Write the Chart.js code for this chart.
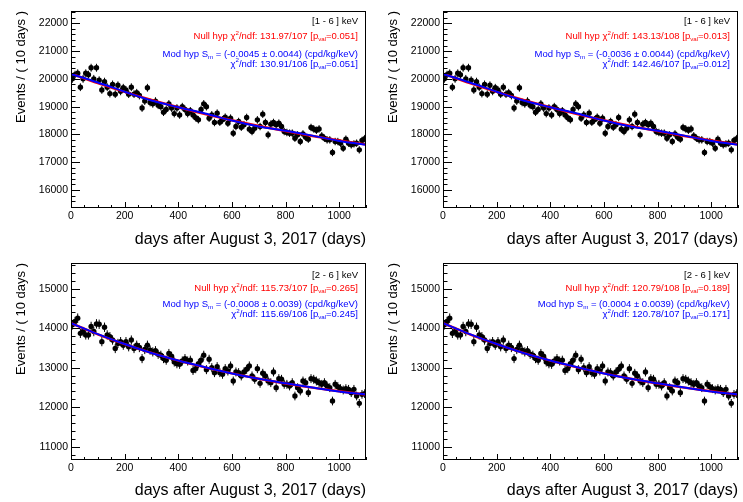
<!DOCTYPE html>
<html><head><meta charset="utf-8">
<script src="https://cdn.jsdelivr.net/npm/chart.js@4.4.0/dist/chart.umd.min.js"></script>
<style>
html,body{margin:0;padding:0;background:#fff;}
#wrap{position:relative;width:743px;height:502px;overflow:hidden;background:#fff;}
canvas{position:absolute;}
</style></head><body><div id="wrap">
<canvas id="c0" width="371" height="251" style="left:0px;top:0px"></canvas>
<canvas id="c1" width="371" height="251" style="left:372px;top:0px"></canvas>
<canvas id="c2" width="371" height="251" style="left:0px;top:251px"></canvas>
<canvas id="c3" width="371" height="251" style="left:372px;top:251px"></canvas>
</div>
<script>
// ---- data ----
const days = [5,15,25,35,45,55,65,75,85,95,
 105,115,125,135,145,155,165,175,185,195,
 205,215,225,235,245,255,265,275,285,295,
 305,315,325,335,345,355,365,375,385,395,
 405,415,425,435,445,455,465,475,485,495,
 505,515,525,535,545,555,565,575,585,595,
 605,615,625,635,645,655,665,675,685,695,
 705,715,725,735,745,755,765,775,785,795,
 805,815,825,835,845,855,865,875,885,895,
 905,915,925,935,945,955,965,975,985,995,
 1005,1015,1025,1035,1045,1055,1065,1075,1085,1095];

const counts1to6 = [20000,20150,20200,19700,20000,20200,20150,20400,20000,20400,
 19950,19600,19900,19700,19470,19800,19450,19770,19550,19680,
 19600,19450,19700,19450,19500,19400,18950,19200,19680,19150,
 19100,19200,19050,19000,18800,18900,19100,18950,18750,18950,
 18700,19000,18900,18750,18850,18700,18600,18530,18900,19100,
 19000,18585,18705,18430,18765,18440,18525,18620,18405,18585,
 18045,18285,18465,18260,18345,18610,18190,18105,18225,18525,
 18285,18730,18430,17985,18370,18430,18345,18405,18285,18105,
 18070,18045,18045,17865,17985,17745,18020,17900,17830,18250,
 18200,18150,18200,17950,17865,17805,17805,17350,17745,17745,
 17685,17505,17830,17685,17625,17660,17685,17445,17780,17850];

const counts2to6 = [14085,14170,14255,13870,13915,13830,13830,14045,13915,14110,
 14100,13660,14025,13830,13785,13700,13485,13615,13660,13570,
 13660,13530,13700,13485,13570,13510,13230,13460,13570,13445,
 13400,13430,13340,13315,13230,13190,13360,13290,13145,13100,
 13085,13170,13230,13170,13190,12930,12975,13100,13190,13315,
 12950,13213,13001,12875,13027,12875,12833,12976,12917,13044,
 12663,12892,12875,12791,12892,12960,13044,12791,12706,12976,
 12604,12858,12791,12663,12621,12892,12494,12723,12706,12579,
 12579,12537,12621,12283,12494,12410,12663,12621,12368,12723,
 12706,12663,12621,12579,12621,12537,12494,12156,12579,12520,
 12469,12435,12469,12452,12368,12452,12283,12097,12325,12342];

const fitDays = [0,100,200,300,400,500,600,700,800,900,1000,1100];
const nullFit1to6 = [20190,19847,19532,19243,18978,18734,18510,18305,18117,17944,17786,17640];
const modFit1to6  = [20178,19868,19537,19220,18980,18756,18500,18286,18132,17958,17766,17630];
const nullFit2to6 = [14130,13847,13598,13377,13181,13009,12856,12721,12601,12496,12403,12320];
const modFit2to6  = [14127,13851,13599,13373,13181,13013,12854,12718,12604,12499,12400,12319];

const xRange = [0, 1100];
const xTicks = [0,200,400,600,800,1000];
const yRange1to6 = [15353, 22442];
const yTicks1to6 = [16000,17000,18000,19000,20000,21000,22000];
const yRange2to6 = [10662, 15652];
const yTicks2to6 = [11000,12000,13000,14000,15000];

const xTitle = 'days after August 3, 2017 (days)';
const yTitle = 'Events / ( 10 days )';

const text1to6Left  = ['[1 - 6 ] keV', 'Null hyp \u03c7^{2}/ndf: 131.97/107 [p_{val}=0.051]', 'Mod hyp S_{m} = (-0.0045 \u00b1 0.0044) (cpd/kg/keV)', '\u03c7^{2}/ndf: 130.91/106 [p_{val}=0.051]'];
const text1to6Right = ['[1 - 6 ] keV', 'Null hyp \u03c7^{2}/ndf: 143.13/108 [p_{val}=0.013]', 'Mod hyp S_{m} = (-0.0036 \u00b1 0.0044) (cpd/kg/keV)', '\u03c7^{2}/ndf: 142.46/107 [p_{val}=0.012]'];
const text2to6Left  = ['[2 - 6 ] keV', 'Null hyp \u03c7^{2}/ndf: 115.73/107 [p_{val}=0.265]', 'Mod hyp S_{m} = (-0.0008 \u00b1 0.0039) (cpd/kg/keV)', '\u03c7^{2}/ndf: 115.69/106 [p_{val}=0.245]'];
const text2to6Right = ['[2 - 6 ] keV', 'Null hyp \u03c7^{2}/ndf: 120.79/108 [p_{val}=0.189]', 'Mod hyp S_{m} = (0.0004 \u00b1 0.0039) (cpd/kg/keV)', '\u03c7^{2}/ndf: 120.78/107 [p_{val}=0.171]'];
const textColors = ['#000000', '#ff0000', '#0000ff', '#0000ff'];

// ---- rendering ----
const FONT = '"Liberation Sans", Arial, Helvetica, sans-serif';

function drawRich(ctx, str, xRight, yMid, size, color) {
  const parts = str.split(/(\^\{[^}]*\}|_\{[^}]*\})/).filter(s => s.length);
  const segs = parts.map(p => {
    if (p.startsWith('^{')) return {t: p.slice(2, -1), k: 'sup'};
    if (p.startsWith('_{')) return {t: p.slice(2, -1), k: 'sub'};
    return {t: p, k: 'n'};
  });
  const small = size * 0.65;
  let total = 0;
  segs.forEach(s => {
    ctx.font = (s.k === 'n' ? size : small) + 'px ' + FONT;
    s.w = ctx.measureText(s.t).width;
    total += s.w;
  });
  let x = xRight - total;
  ctx.fillStyle = color;
  ctx.textBaseline = 'middle';
  ctx.textAlign = 'left';
  segs.forEach(s => {
    ctx.font = (s.k === 'n' ? size : small) + 'px ' + FONT;
    let dy = 0;
    if (s.k === 'sup') dy = -size * 0.38;
    if (s.k === 'sub') dy = size * 0.32;
    ctx.fillText(s.t, x, yMid + dy);
    x += s.w;
  });
}

const rootPlugin = {
  id: 'rootPlugin',
  beforeDatasetsDraw(chart) {
    const cfg = chart.options.plugins.rootPlugin;
    const {ctx, chartArea: a} = chart;
    const x = chart.scales.x, y = chart.scales.y;
    ctx.save();
    ctx.beginPath(); ctx.rect(a.left, a.top, a.right - a.left, a.bottom - a.top); ctx.clip();
    ctx.strokeStyle = '#000'; ctx.lineWidth = 1;
    cfg.counts.forEach((v, i) => {
      const px = x.getPixelForValue(days[i]);
      const e = Math.sqrt(v);
      ctx.beginPath();
      ctx.moveTo(px, y.getPixelForValue(v + e));
      ctx.lineTo(px, y.getPixelForValue(v - e));
      ctx.stroke();
    });
    ctx.restore();
  },
  afterDraw(chart) {
    const cfg = chart.options.plugins.rootPlugin;
    const {ctx, chartArea: a} = chart;
    const x = chart.scales.x, y = chart.scales.y;
    ctx.save();
    ctx.strokeStyle = '#000'; ctx.lineWidth = 1;
    ctx.strokeRect(a.left + 0.5, a.top + 0.5, a.right - a.left - 1, a.bottom - a.top - 1);
    ctx.beginPath();
    for (let v = Math.ceil(y.min / 200) * 200; v <= y.max; v += 200) {
      const py = Math.round(y.getPixelForValue(v)) + 0.5;
      const len = (v % 1000 === 0) ? 9 : 4.5;
      ctx.moveTo(a.left, py); ctx.lineTo(a.left + len, py);
    }
    for (let v = 0; v <= x.max; v += 50) {
      const px = Math.round(x.getPixelForValue(v)) + 0.5;
      const len = (v % 200 === 0) ? 6 : 3;
      ctx.moveTo(px, a.bottom); ctx.lineTo(px, a.bottom - len);
    }
    ctx.stroke();
    cfg.lines.forEach((s, i) => {
      drawRich(ctx, s, a.right - 8, cfg.textY[i], 9.5, textColors[i]);
    });
    ctx.restore();
  }
};

function makeChart(id, counts, nullFit, modFit, yRange, yTicks, lines, padTop, xH, textY) {
  const pts = days.map((d, i) => ({x: d, y: counts[i]}));
  const nullPts = fitDays.map((d, i) => ({x: d, y: nullFit[i]}));
  const modPts = fitDays.map((d, i) => ({x: d, y: modFit[i]}));
  new Chart(document.getElementById(id), {
    type: 'line',
    data: {datasets: [
      {data: modPts, borderColor: '#0000ff', borderWidth: 2, pointRadius: 0, cubicInterpolationMode: 'monotone', order: 0},
      {data: nullPts, borderColor: '#ff0000', borderWidth: 2.4, pointRadius: 0, cubicInterpolationMode: 'monotone', order: 1},
      {data: pts, showLine: false, pointRadius: 2.7, pointBackgroundColor: '#000', pointBorderWidth: 0, order: 2}
    ]},
    options: {
      responsive: false, animation: false, devicePixelRatio: 1,
      layout: {padding: {left: 0, right: 5, top: padTop, bottom: 0}},
      plugins: {legend: {display: false}, tooltip: {enabled: false},
        rootPlugin: {counts: counts, lines: lines, textY: textY}},
      scales: {
        x: {type: 'linear', min: xRange[0], max: xRange[1],
          grid: {display: false, drawTicks: false}, border: {display: false},
          afterBuildTicks: s => { s.ticks = xTicks.map(v => ({value: v})); },
          afterFit: s => { s.height = xH; },
          ticks: {font: {family: FONT, size: 10.5}, color: '#000', padding: 2, maxRotation: 0, autoSkip: false, callback: v => String(v)},
          title: {display: true, text: xTitle, align: 'end', color: '#000', font: {family: FONT, size: 16}, padding: {top: 0, bottom: 2}}
        },
        y: {type: 'linear', min: yRange[0], max: yRange[1],
          grid: {display: false, drawTicks: false}, border: {display: false},
          afterBuildTicks: s => { s.ticks = yTicks.map(v => ({value: v})); },
          afterFit: s => { s.width = 71; },
          ticks: {font: {family: FONT, size: 10.5}, color: '#000', padding: 3, autoSkip: false, callback: v => String(v)},
          title: {display: true, text: yTitle, align: 'end', color: '#000', font: {family: FONT, size: 13}, padding: {top: 14, bottom: 0}}
        }
      }
    },
    plugins: [rootPlugin]
  });
}

const topTextY = [21.7, 36.7, 54.3, 64.3];
const botTextY = [24.7, 37.5, 53.5, 63.5];
makeChart('c0', counts1to6, nullFit1to6, modFit1to6, yRange1to6, yTicks1to6, text1to6Left, 11, 43, topTextY);
makeChart('c1', counts1to6, nullFit1to6, modFit1to6, yRange1to6, yTicks1to6, text1to6Right, 11, 43, topTextY);
makeChart('c2', counts2to6, nullFit2to6, modFit2to6, yRange2to6, yTicks2to6, text2to6Left, 12, 42, botTextY);
makeChart('c3', counts2to6, nullFit2to6, modFit2to6, yRange2to6, yTicks2to6, text2to6Right, 12, 42, botTextY);
</script></body></html>
